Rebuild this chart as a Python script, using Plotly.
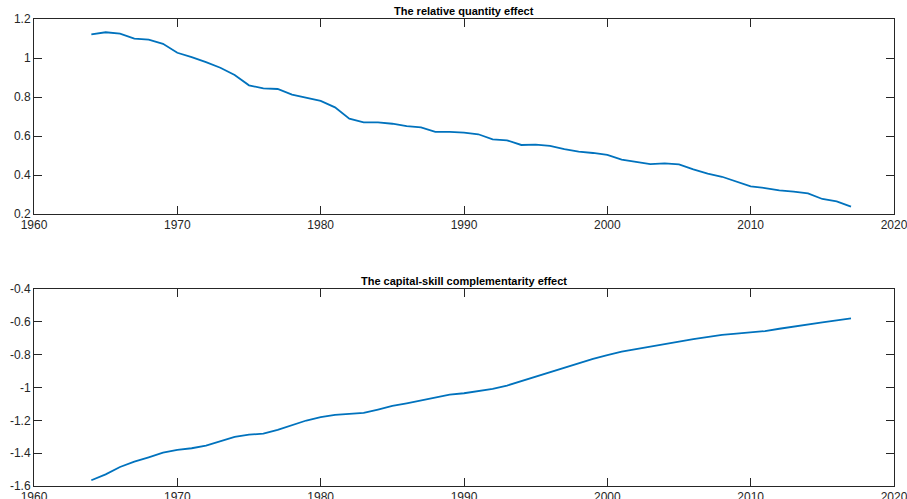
import plotly.graph_objects as go

years = list(range(1964, 2018))

relative_quantity = [
    1.121, 1.132, 1.125, 1.099, 1.094, 1.073, 1.027, 1.005, 0.979, 0.950,
    0.913, 0.860, 0.844, 0.841, 0.812, 0.797, 0.780, 0.747, 0.689, 0.670,
    0.670, 0.663, 0.651, 0.644, 0.621, 0.621, 0.617, 0.609, 0.583, 0.578,
    0.554, 0.556, 0.549, 0.533, 0.520, 0.513, 0.503, 0.479, 0.467, 0.456,
    0.460, 0.455, 0.429, 0.407, 0.391, 0.366, 0.342, 0.333, 0.321, 0.315,
    0.306, 0.277, 0.265, 0.238,
]

capital_skill = [
    -1.565, -1.529, -1.484, -1.451, -1.425, -1.397, -1.380, -1.370, -1.354, -1.327,
    -1.301, -1.287, -1.281, -1.258, -1.230, -1.201, -1.181, -1.167, -1.161, -1.155,
    -1.134, -1.112, -1.096, -1.079, -1.061, -1.043, -1.035, -1.022, -1.008, -0.988,
    -0.961, -0.933, -0.906, -0.878, -0.851, -0.825, -0.803, -0.782, -0.766, -0.752,
    -0.738, -0.721, -0.705, -0.691, -0.679, -0.672, -0.666, -0.656, -0.642, -0.628,
    -0.616, -0.603, -0.591, -0.579,
]

x_ticks = [1960, 1970, 1980, 1990, 2000, 2010, 2020]
x_labels = ["1960", "1970", "1980", "1990", "2000", "2010", "2020"]
top_ticks = [0.2, 0.4, 0.6, 0.8, 1.0, 1.2]
top_labels = ["0.2", "0.4", "0.6", "0.8", "1", "1.2"]
bot_ticks = [-1.6, -1.4, -1.2, -1.0, -0.8, -0.6, -0.4]
bot_labels = ["-1.6", "-1.4", "-1.2", "-1", "-0.8", "-0.6", "-0.4"]

titles = ["The relative quantity effect", "The capital-skill complementarity effect"]

LINE = "#0072BD"
AX = "#262626"
FONT = "Liberation Sans, Arial, Helvetica, sans-serif"

fig = go.Figure()
fig.add_trace(go.Scatter(x=years, y=relative_quantity, mode="lines",
                         line=dict(color=LINE, width=1.8), xaxis="x", yaxis="y",
                         showlegend=False))
fig.add_trace(go.Scatter(x=years, y=capital_skill, mode="lines",
                         line=dict(color=LINE, width=1.8), xaxis="x2", yaxis="y2",
                         showlegend=False))

axis_common = dict(
    showline=True, linecolor=AX, linewidth=1, mirror="ticks",
    ticks="inside", ticklen=8, tickcolor=AX, tickwidth=1,
    showgrid=False, zeroline=False, automargin=False,
    ticklabeloverflow="allow",
    tickfont=dict(family=FONT, size=12, color=AX),
)

top_dom = [0.5824, 1.0]
bot_dom = [0.0, 0.4218]

fig.update_layout(
    width=907, height=499,
    margin=dict(l=34, r=13, t=19, b=13),
    paper_bgcolor="white", plot_bgcolor="white",
    xaxis=dict(domain=[0, 1], anchor="y", range=[1960, 2020],
               tickvals=x_ticks, ticktext=x_labels, **axis_common),
    yaxis=dict(domain=top_dom, anchor="x", range=[0.2, 1.2],
               tickvals=top_ticks, ticktext=top_labels, **axis_common),
    xaxis2=dict(domain=[0, 1], anchor="y2", range=[1960, 2020],
                tickvals=x_ticks, ticktext=x_labels, **axis_common),
    yaxis2=dict(domain=bot_dom, anchor="x2", range=[-1.6, -0.4],
                tickvals=bot_ticks, ticktext=bot_labels, **axis_common),
    annotations=[
        dict(text="<b>" + titles[0] + "</b>", x=0.5, y=top_dom[1], xref="paper", yref="paper",
             xanchor="center", yanchor="bottom", yshift=0, showarrow=False,
             font=dict(family=FONT, size=11, color="black")),
        dict(text="<b>" + titles[1] + "</b>", x=0.5, y=bot_dom[1], xref="paper", yref="paper",
             xanchor="center", yanchor="bottom", yshift=0, showarrow=False,
             font=dict(family=FONT, size=11, color="black")),
    ],
)

fig.write_html("out.html", config={"displayModeBar": False},
               post_script="document.body.style.margin='0';")
